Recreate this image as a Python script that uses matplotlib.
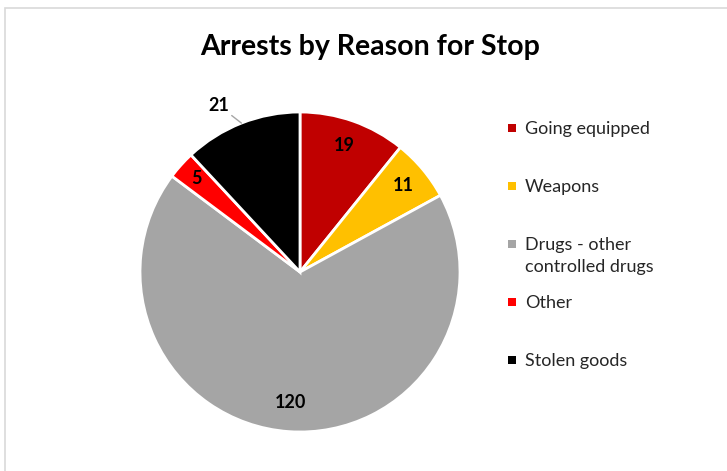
import matplotlib
matplotlib.use("Agg")
import matplotlib.pyplot as plt
import matplotlib.patches as mpatches
import numpy as np

# chart data
reasons = ["Going equipped", "Weapons", "Drugs - other\ncontrolled drugs", "Other", "Stolen goods"]
arrests = [19, 11, 120, 5, 21]
colors = ["#C00000", "#FFC000", "#A5A5A5", "#FF0000", "#000000"]

W, H = 727, 471
plt.rcParams['font.family'] = ['Lato', 'DejaVu Sans']

fig = plt.figure(figsize=(W / 100, H / 100), dpi=100)

# light chart-area border (only left and top visible in the reference)
fig.add_artist(mpatches.Rectangle((5 / W, -0.2), 1.2, 1.2 - 8 / H,
                                  transform=fig.transFigure, fill=False,
                                  edgecolor="#D9D9D9", linewidth=1.2))

fig.text(370 / W, 1 - 47 / H, "Arrests by Reason for Stop", ha="center", va="center",
         fontsize=20.5, fontweight="bold")

# pie: centre at (300, 272) px, radius 160 px, axes limits +-1.25
cx, cy, r = 300, 272, 160
half = 1.25 * r
ax = fig.add_axes([(cx - half) / W, (H - cy - half) / H, 2 * half / W, 2 * half / H])
wedges, _ = ax.pie(arrests, colors=colors, startangle=90, counterclock=False,
                   wedgeprops=dict(edgecolor="white", linewidth=2))
ax.set_xlim(-1.25, 1.25)
ax.set_ylim(-1.25, 1.25)

label_r = [0.84, 0.84, 0.82, 0.87, None]
for w, val, lr in zip(wedges, arrests, label_r):
    ang = np.deg2rad((w.theta1 + w.theta2) / 2)
    x, y = np.cos(ang), np.sin(ang)
    if lr is not None:
        ax.text(lr * x, lr * y, str(val), ha="center", va="center",
                fontsize=13, fontweight="bold", color="black")
    else:
        ax.annotate(str(val), xy=(x, y), xytext=(1.2 * x - 0.07, 1.12 * y),
                    ha="center", va="center", fontsize=13, fontweight="bold",
                    arrowprops=dict(arrowstyle="-", color="#A6A6A6", lw=1,
                                    shrinkA=0, shrinkB=0))

# legend, drawn entry by entry to match the spacing
for i, (name, col) in enumerate(zip(reasons, colors)):
    yc = 128 + 58 * i
    fig.add_artist(mpatches.Rectangle(((512 - 4) / W, 1 - (yc + 4) / H), 8 / W, 8 / H,
                                      transform=fig.transFigure, facecolor=col,
                                      edgecolor="none"))
    fig.text(525 / W, 1 - (yc - 7) / H, name, ha="left", va="top",
             fontsize=13, color="#262626", linespacing=1.45)

fig.savefig("out.png", dpi=100)
